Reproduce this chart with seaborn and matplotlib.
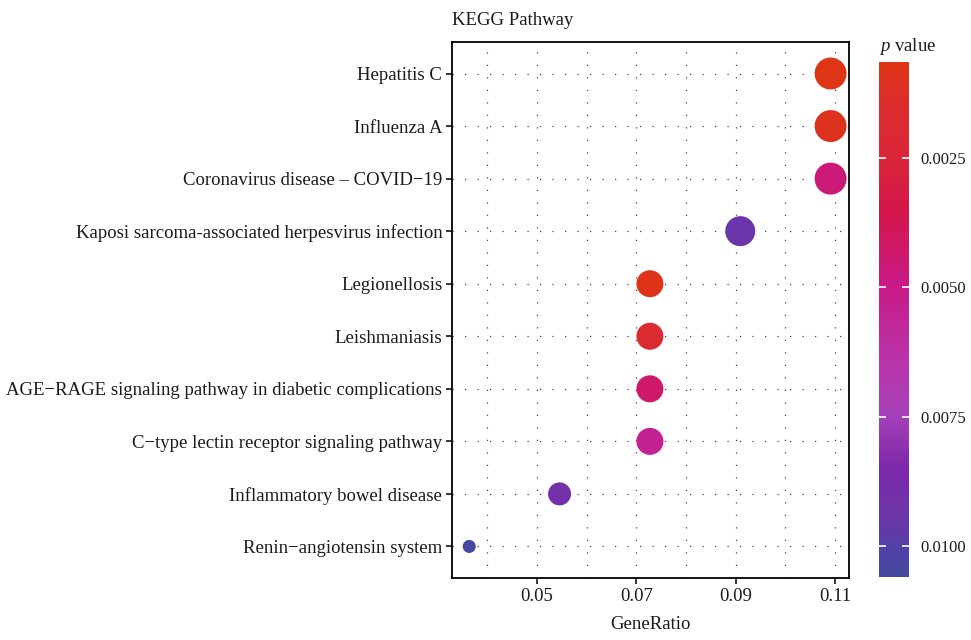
import numpy as np
import pandas as pd
import matplotlib
matplotlib.use("Agg")
import matplotlib.pyplot as plt
import seaborn as sns
from matplotlib.colors import LinearSegmentedColormap, Normalize
from matplotlib.cm import ScalarMappable
from matplotlib.ticker import FixedLocator

pathways = [
    "Hepatitis C",
    "Influenza A",
    "Coronavirus disease \u2013 COVID\u221219",
    "Kaposi sarcoma-associated herpesvirus infection",
    "Legionellosis",
    "Leishmaniasis",
    "AGE\u2212RAGE signaling pathway in diabetic complications",
    "C\u2212type lectin receptor signaling pathway",
    "Inflammatory bowel disease",
    "Renin\u2212angiotensin system",
]
gene_count = [6, 6, 6, 5, 4, 4, 4, 4, 3, 2]
gene_ratio = [6 / 55, 6 / 55, 6 / 55, 5 / 55, 4 / 55, 4 / 55, 4 / 55, 4 / 55, 3 / 55, 2 / 55]
p_value = [0.00065, 0.0009, 0.0046, 0.0095, 0.0008, 0.0018, 0.0043, 0.0054, 0.0091, 0.0106]

x_ticks = [0.05, 0.07, 0.09, 0.11]
cbar_ticks = [0.0025, 0.0050, 0.0075, 0.0100]

df = pd.DataFrame({"Pathway": pathways, "GeneRatio": gene_ratio,
                   "Count": gene_count, "p": p_value})

sns.set_theme(style="white")
plt.rcParams["font.family"] = ["Liberation Serif", "DejaVu Serif"]
plt.rcParams["mathtext.fontset"] = "custom"
plt.rcParams["mathtext.it"] = "Liberation Serif:italic"
plt.rcParams["mathtext.rm"] = "Liberation Serif"

vmin, vmax = min(p_value), max(p_value)
def pos(p):
    return (p - vmin) / (vmax - vmin)
stops = [(0.00065, "#DD3515"), (0.0013, "#DB2E2A"), (0.0025, "#D9263A"),
         (0.0035, "#D4164A"), (0.0050, "#C81A88"), (0.0065, "#B935AC"),
         (0.0075, "#A540B8"), (0.0085, "#7E28AA"), (0.0095, "#6A35A8"),
         (0.0100, "#5440A6"), (0.0106, "#4348A0")]
cmap = LinearSegmentedColormap.from_list(
    "pcmap", [(min(max(pos(p), 0), 1), c) for p, c in stops])
norm = Normalize(vmin=vmin, vmax=vmax)

fig = plt.figure(figsize=(9.71, 6.4), dpi=100)
ax = fig.add_axes([0.4655, 0.0969, 0.8744 - 0.4655, 0.9344 - 0.0969])

sizes = {2: 88, 3: 274, 4: 378, 5: 466, 6: 530}
sns.scatterplot(data=df, x="GeneRatio", y="Pathway", hue="p", size="Count",
                hue_norm=norm, palette=cmap, sizes=sizes, linewidth=0,
                legend=False, ax=ax, zorder=3)

ax.set_xlim(0.0329, 0.1128)
ax.set_ylim(len(pathways) - 1 + 0.6, -0.6)
ax.xaxis.set_major_locator(FixedLocator(x_ticks))
ax.set_xticklabels([f"{t:.2f}" for t in x_ticks])
ax.xaxis.set_minor_locator(FixedLocator([0.04, 0.06, 0.08, 0.10]))

grid_kw = dict(color="#444444", linewidth=0.9, linestyle=(0, (1, 9)))
ax.grid(True, which="major", axis="both", **grid_kw)
ax.grid(True, which="minor", axis="x", **grid_kw)
ax.set_axisbelow(True)

for s in ax.spines.values():
    s.set_visible(True)
    s.set_color("black")
    s.set_linewidth(1.3)

ax.tick_params(axis="both", which="major", direction="out", length=4,
               width=1.1, color="black", labelsize=13.5, labelcolor="#1a1a1a",
               left=True, bottom=True, pad=3)
ax.tick_params(axis="x", which="minor", length=0)
ax.set_xlabel("GeneRatio", fontsize=13.5, color="#1a1a1a", labelpad=8)
ax.set_ylabel("")
ax.set_title("KEGG Pathway", loc="left", fontsize=13.5, color="#1a1a1a", pad=12)

cax = fig.add_axes([0.9053, 0.0984, 0.9361 - 0.9053, 0.9031 - 0.0984])
sm = ScalarMappable(norm=norm, cmap=cmap)
cb = fig.colorbar(sm, cax=cax)
cb.outline.set_visible(False)
cax.set_axisbelow(False)
cax.invert_yaxis()
cb.set_ticks(cbar_ticks)
cb.set_ticklabels([f"{t:.4f}" for t in cbar_ticks])
cax.yaxis.set_ticks_position("both")
cax.tick_params(axis="y", direction="in", length=5, width=1.2, color="white",
                labelsize=12, labelcolor="#1a1a1a", right=True, left=True,
                labelright=True, labelleft=False, pad=8)
cax.set_title("$p$ value", fontsize=13.5, color="#1a1a1a", loc="left", pad=8)

fig.savefig("out.png", dpi=100)
